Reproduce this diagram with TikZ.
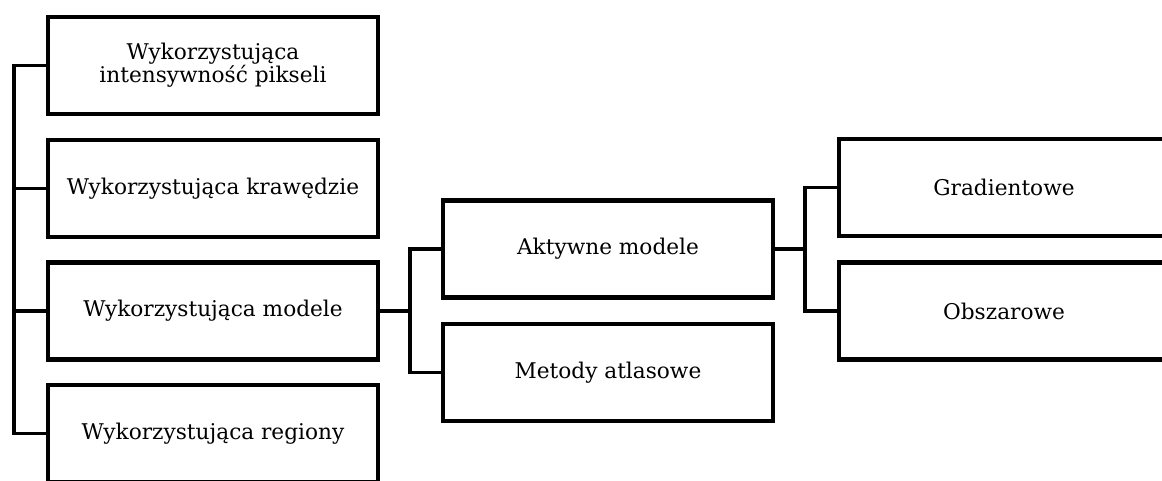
\documentclass[tikz,border=0pt]{standalone}
\usepackage{fontspec}
\setmainfont{DejaVu Serif}

\begin{document}
\begin{tikzpicture}[x=0.025cm, y=-0.025cm, line join=miter,
    box/.style={draw, line width=3pt, minimum width=8.25cm, minimum height=2.42cm,
        align=center, font=\fontsize{15.4}{16.5}\selectfont},
    link/.style={line width=2.6pt}]

    % Page frame, boxes at the edges run past it
    \path[use as bounding box, clip] (0,0) rectangle (1162,480);

    % Left column
    \node[box] (intens) at (213,65.5) {Wykorzystująca\\intensywność pikseli};
    \node[box] (kraw) at (213,188.5) {Wykorzystująca krawędzie};
    \node[box] (model) at (213,311) {Wykorzystująca modele};
    \node[box] (region) at (213,433.5) {Wykorzystująca regiony};

    % Model based methods
    \node[box] (aktyw) at (608,249) {Aktywne modele};
    \node[box] (atlas) at (608,372.5) {Metody atlasowe};

    % Active models
    \node[box] (grad) at (1004,187.5) {Gradientowe};
    \node[box] (obsz) at (1004,311) {Obszarowe};

    % Spines of the brackets
    \coordinate (lspine) at (14,0);
    \coordinate (mspine) at (410,0);
    \coordinate (rspine) at (805,0);

    % Brackets
    \draw[link] (intens.west) -| (lspine |- region.west) -- (region.west);
    \foreach \n in {kraw, model}
        \draw[link] (\n.west) -- (\n.west -| lspine);

    \draw[link] (model.east) -- (model.east -| mspine);
    \draw[link] (aktyw.west) -| (mspine |- atlas.west) -- (atlas.west);

    \draw[link] (aktyw.east) -- (aktyw.east -| rspine);
    \draw[link] (grad.west) -| (rspine |- obsz.west) -- (obsz.west);

\end{tikzpicture}
\end{document}
